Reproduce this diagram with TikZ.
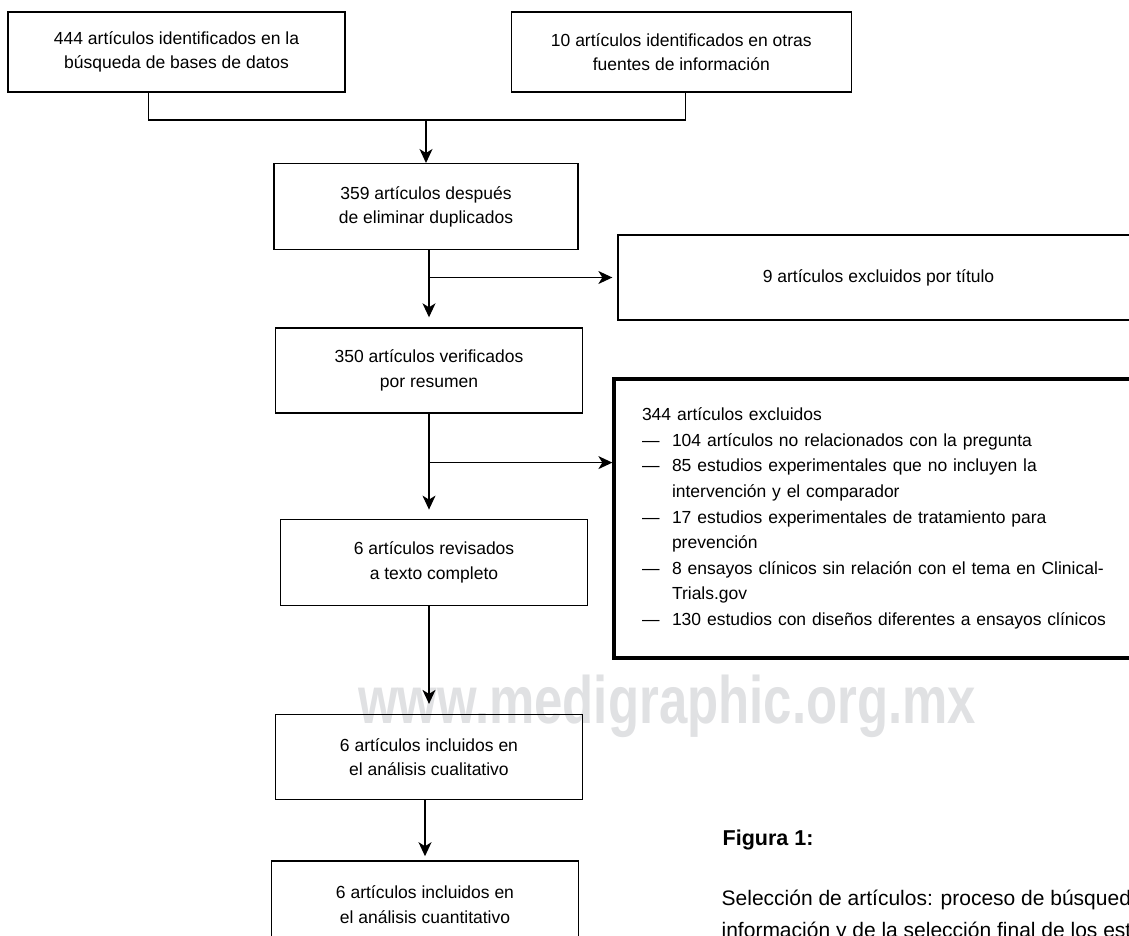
\documentclass[tikz,border=0pt]{standalone}
\usepackage{fontspec}
\setmainfont{Liberation Sans}
\usepackage{graphicx}
\usetikzlibrary{positioning,arrows.meta}
\definecolor{watermark}{RGB}{224,225,227}
\tikzstyle{box}=[rectangle, draw=black, line width=1.3pt, align=center, inner sep=0pt, minimum width=307pt, minimum height=85pt, font=\fontsize{17.5pt}{24.5pt}\selectfont]
\tikzset{>={Stealth[length=14pt, width=13pt, inset=4pt]}}
\newcommand{\guion}{\makebox[30pt][l]{—}}
\newcommand{\sangria}{\hspace*{30pt}}

\begin{document}
\begin{tikzpicture}[x=1pt, y=-1pt, line width=1.3pt]
    \useasboundingbox (0,0) rectangle (1129,936);
    \clip (0,0) rectangle (1129,936);

        \node (watermarkText) [anchor=base, text=watermark, font=\fontsize{67pt}{67pt}\selectfont\bfseries] at (667,723) {\scalebox{0.76}[1]{www.medigraphic.org.mx}};

        \node (dbSearch)[box, minimum width=337pt, minimum height=80pt] at (176.5,52) {444 artículos identificados en la\\búsqueda de bases de datos};
        \node (otherSources)[box, minimum width=340pt, minimum height=80pt, right=165pt of dbSearch] {10 artículos identificados en otras\\fuentes de información};

        \coordinate (join) at (426,120);
        \draw ([xshift=-28pt]dbSearch.south) |- (join) -| ([xshift=4pt]otherSources.south);

        \node (noDuplicates)[box, minimum width=304pt, minimum height=86pt, below=43pt of join] {359 artículos después\\de eliminar duplicados};
        \draw [->] (join) -- (noDuplicates);

        \node (excludedTitle)[box, minimum width=521pt] at (878.5,277.5) {9 artículos excluidos por título};

        \node (abstractCheck)[box, below=77pt of noDuplicates, xshift=3pt] {350 artículos verificados\\por resumen};
        \draw [->, shorten >=10pt] (abstractCheck.north |- noDuplicates.south) -- (abstractCheck.north);

        \coordinate (splitTitle) at (abstractCheck.north |- excludedTitle.west);
        \draw [->, shorten >=5pt] (splitTitle) -- (excludedTitle.west);

        \node (excludedList)[box, line width=3.3pt, minimum width=526pt, minimum height=279pt, text width=470pt, align=left, inner xsep=28pt, font=\fontsize{17.5pt}{25.6pt}\selectfont] at (877,518.5) {344 artículos excluidos\\
        \guion 104 artículos no relacionados con la pregunta\\
        \guion 85 estudios experimentales que no incluyen la\\
        \sangria intervención y el comparador\\
        \guion 17 estudios experimentales de tratamiento para\\
        \sangria prevención\\
        \guion 8 ensayos clínicos sin relación con el tema en Clinical-\\
        \sangria Trials.gov\\
        \guion 130 estudios con diseños diferentes a ensayos clínicos};

        \coordinate (splitList) at ([yshift=-49pt]abstractCheck.south);
        \draw [->] (splitList) -- (splitList -| excludedList.west);

        \node (fullText)[box, minimum height=86pt, below=105pt of abstractCheck, xshift=5pt] {6 artículos revisados\\a texto completo};
        \draw [->, shorten >=9pt] (abstractCheck.south) -- (abstractCheck.south |- fullText.north);

        \node (qualitative)[box, below=108pt of fullText, xshift=-5pt] {6 artículos incluidos en\\el análisis cualitativo};
        \draw [->, shorten >=10pt] (abstractCheck.south |- fullText.south) -- (abstractCheck.south |- qualitative.north);

        \node (quantitative)[box, minimum height=88pt, below=60pt of qualitative, xshift=-4pt] {6 artículos incluidos en\\el análisis cuantitativo};
        \draw [->, shorten >=4pt] (quantitative.north |- qualitative.south) -- (quantitative.north);

        \node (figTitle)[anchor=base west, inner sep=0pt, font=\fontsize{21.5pt}{21.5pt}\selectfont\bfseries] at (722,845) {Figura 1:};
        \node (figCaptionA)[anchor=base west, inner sep=0pt, font=\fontsize{21pt}{21pt}\selectfont] at (721,905) {Selección de artículos: proceso de búsqueda de};
        \node (figCaptionB)[anchor=base west, inner sep=0pt, font=\fontsize{21pt}{21pt}\selectfont] at (721,937) {información y de la selección final de los estudios.};

    \end{tikzpicture}
\end{document}
